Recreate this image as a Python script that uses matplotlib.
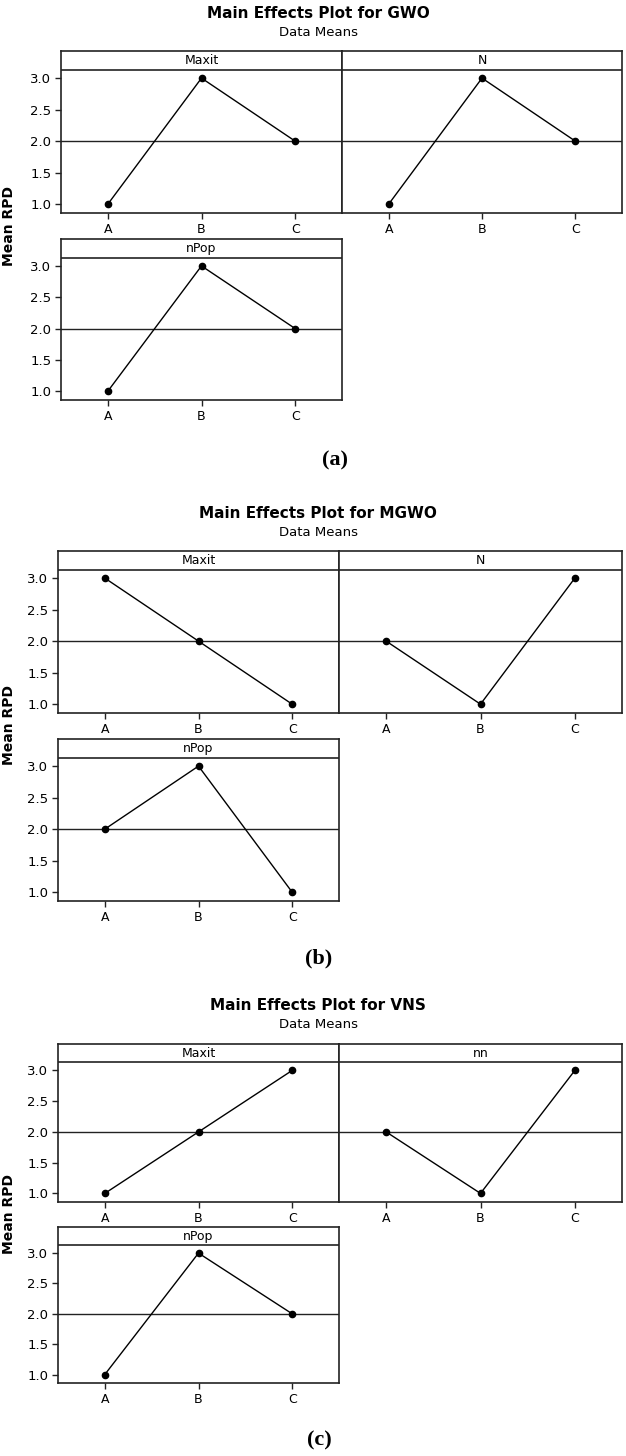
import numpy as np
import matplotlib
matplotlib.use("Agg")
import matplotlib.pyplot as plt

plt.rcParams['font.family'] = ['DejaVu Sans']

W, H = 626, 1456

# Data
levels = ["A", "B", "C"]

gwo_factors = ["Maxit", "N", "nPop"]
gwo_maxit = [1.0, 3.0, 2.0]
gwo_n = [1.0, 3.0, 2.0]
gwo_npop = [1.0, 3.0, 2.0]

mgwo_factors = ["Maxit", "N", "nPop"]
mgwo_maxit = [3.0, 2.0, 1.0]
mgwo_n = [2.0, 1.0, 3.0]
mgwo_npop = [2.0, 3.0, 1.0]

vns_factors = ["Maxit", "nn", "nPop"]
vns_maxit = [1.0, 2.0, 3.0]
vns_nn = [2.0, 1.0, 3.0]
vns_npop = [1.0, 3.0, 2.0]

yticks = [1.0, 1.5, 2.0, 2.5, 3.0]

fig = plt.figure(figsize=(W / 100, H / 100), dpi=100)

EDGE = "#222222"
YLO, YHI, YHEAD = 0.86, 3.43, 3.13


def px_axes(x0, x1, top, bottom):
    # pixel box -> figure fraction
    return fig.add_axes([x0 / W, 1 - bottom / H, (x1 - x0) / W, (bottom - top) / H])


def panel(ax, name, vals, grand, show_y):
    x = np.arange(1, len(levels) + 1)
    ax.axhline(grand, color=EDGE, lw=1.0, zorder=1)
    ax.axhline(YHEAD, color=EDGE, lw=1.2, zorder=1)
    ax.plot(x, vals, color="black", lw=1.0, marker="o", ms=4.5, zorder=3)
    ax.set_xlim(0.5, 3.5)
    ax.set_ylim(YLO, YHI)
    ax.set_xticks(x)
    ax.set_xticklabels(levels, fontsize=9)
    ax.text(2, (YHEAD + YHI) / 2, name, ha="center", va="center", fontsize=9)
    if show_y:
        ax.set_yticks(yticks)
        ax.set_yticklabels(["%.1f" % v for v in yticks], fontsize=9.5)
    else:
        ax.set_yticks([])
    ax.tick_params(direction="out", length=4, width=1, color=EDGE, pad=3)
    for s in ax.spines.values():
        s.set_color(EDGE)
        s.set_linewidth(1.2)


def block(title, factors, series, xl, xm, xr, top_box, low_box, label, label_x, label_y, ylab_y):
    grand = np.mean(series[0])
    a1 = px_axes(xl, xm, *top_box)
    panel(a1, factors[0], series[0], grand, True)
    a2 = px_axes(xm, xr, *top_box)
    panel(a2, factors[1], series[1], grand, False)
    a3 = px_axes(xl, xm, *low_box)
    panel(a3, factors[2], series[2], grand, True)
    t = top_box[0]
    fig.text(318 / W, 1 - (t - 38) / H, title, ha="center", va="center",
             fontsize=11, fontweight="bold")
    fig.text(318 / W, 1 - (t - 19) / H, "Data Means", ha="center", va="center", fontsize=9.5)
    fig.text(9 / W, 1 - ylab_y / H, "Mean RPD", rotation=90, ha="center", va="center",
             fontsize=10, fontweight="bold")
    fig.text(label_x / W, 1 - label_y / H, label, ha="center", va="center",
             fontsize=16, fontweight="bold", family="Liberation Serif")


block("Main Effects Plot for GWO", gwo_factors, [gwo_maxit, gwo_n, gwo_npop],
      61, 342, 622, (51, 213), (239, 400), "(a)", 335, 460, 226)
block("Main Effects Plot for MGWO", mgwo_factors, [mgwo_maxit, mgwo_n, mgwo_npop],
      58, 339, 622, (551, 713), (739, 901), "(b)", 319, 958, 725)
block("Main Effects Plot for VNS", vns_factors, [vns_maxit, vns_nn, vns_npop],
      58, 339, 622, (1044, 1202), (1227, 1383), "(c)", 319, 1440, 1214)

fig.savefig("out.png", dpi=100)
